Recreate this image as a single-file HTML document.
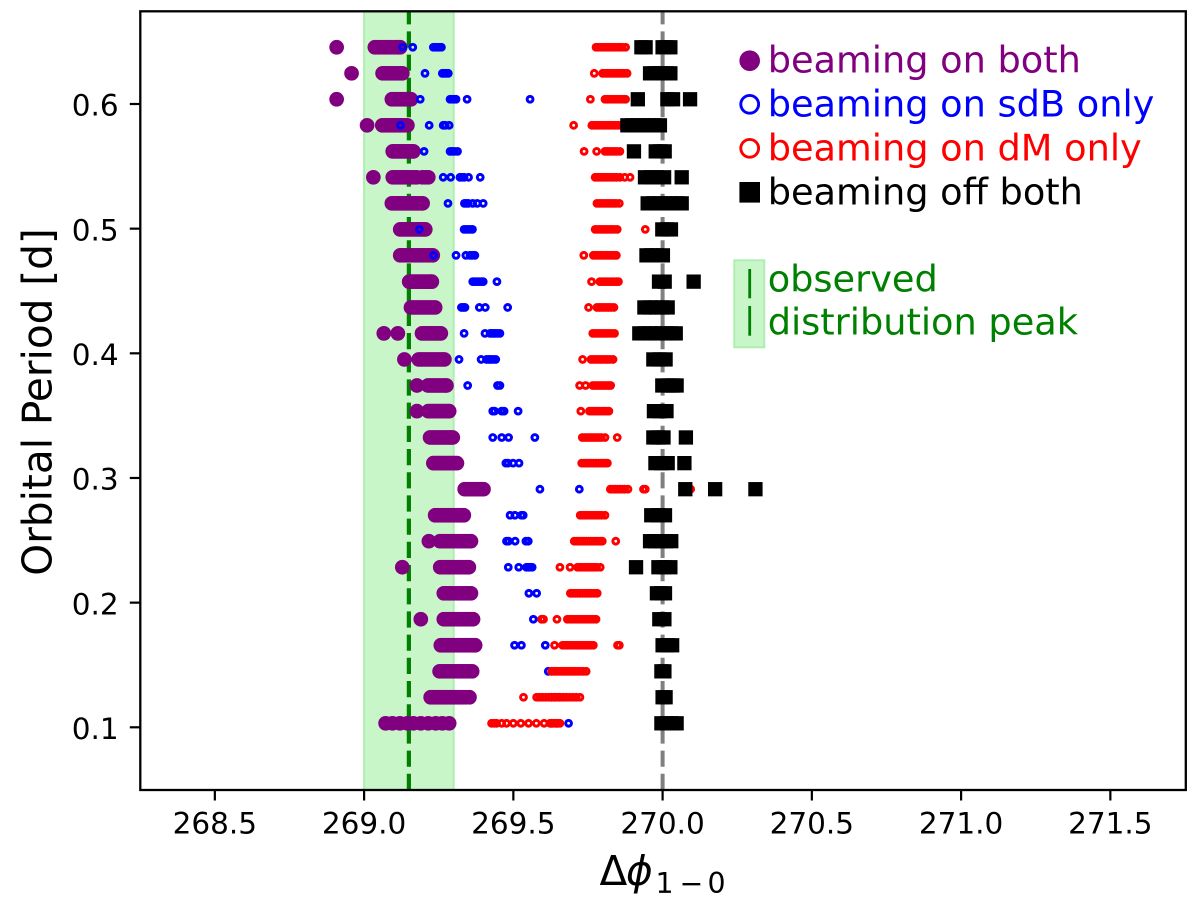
<!DOCTYPE html>
<html lang="en">
<head>
<meta charset="utf-8">
<title>Orbital Period vs Phase Difference</title>
<style>
html,body{margin:0;padding:0;background:#fff;width:1200px;height:898px;overflow:hidden}
svg{display:block;font-family:"DejaVu Sans","Liberation Sans",sans-serif}
</style>
</head>
<body>
<svg id="chart" xmlns="http://www.w3.org/2000/svg" width="1200" height="898" viewBox="0 0 1200 898">
  <rect x="0" y="0" width="1200" height="898" fill="#ffffff"/>
  <g id="under"></g>
  <g id="marks"></g>
  <g id="axes"></g>

  <text transform="translate(51.7,402) rotate(-90)" text-anchor="middle" font-size="40.6" fill="#000">Orbital Period [d]</text>
  <text font-size="40.6" fill="#000" y="885"><tspan x="599.5">Δ</tspan><tspan x="626" font-style="italic">ϕ</tspan><tspan x="655.5" y="893" font-size="28.4">1</tspan><tspan x="679.5" y="893" font-size="28.4">−</tspan><tspan x="707.5" y="893" font-size="28.4">0</tspan></text>

  <g font-size="36.7">
    <circle cx="749.7" cy="60.7" r="10.3" fill="#800080"/>
    <text x="767.7" y="72.7" fill="#800080">beaming on both</text>
    <circle cx="749.7" cy="104.3" r="8.9" fill="none" stroke="#0000ff" stroke-width="2.9"/>
    <text x="767.7" y="116.7" fill="#0000ff">beaming on sdB only</text>
    <circle cx="749.7" cy="148.3" r="8.9" fill="none" stroke="#ff0000" stroke-width="2.9"/>
    <text x="767.7" y="160.7" fill="#ff0000">beaming on dM only</text>
    <rect x="739.4" y="182" width="20.6" height="20.6" fill="#000"/>
    <text x="767.7" y="204.4" fill="#000">beaming off both</text>
    <rect x="734.3" y="260.3" width="30" height="87" fill="#c8f6c8" stroke="#aeeeb0" stroke-width="2"/>
    <line x1="749.7" x2="749.7" y1="269" y2="298.3" stroke="#008000" stroke-width="2.8"/>
    <line x1="749.7" x2="749.7" y1="306" y2="335.7" stroke="#008000" stroke-width="2.8"/>
    <text x="767.7" y="291.7" fill="#008000">observed</text>
    <text x="767.7" y="334.3" fill="#008000">distribution peak</text>
  </g>
</svg>

<script>
const xTickValues = [268.5, 269.0, 269.5, 270.0, 270.5, 271.0, 271.5];
const xTickLabels = ["268.5", "269.0", "269.5", "270.0", "270.5", "271.0", "271.5"];
const yTickValues = [0.1, 0.2, 0.3, 0.4, 0.5, 0.6];
const yTickLabels = ["0.1", "0.2", "0.3", "0.4", "0.5", "0.6"];
const observedSpan = [269.0, 269.3];
const observedPeak = 269.15;
const expectedPeak = 270.0;

const periods = [0.6455,0.6246,0.6038,0.5829,0.562,0.5412,0.5203,0.4994,0.4786,0.4575,0.4368,0.416,0.3951,0.3742,0.3536,0.3325,0.3119,0.291,0.2701,0.2493,0.2284,0.2075,0.1867,0.1658,0.1449,0.1241,0.1032];

const beamingBoth = [
[268.908,269.036,269.045,269.054,269.063,269.072,269.081,269.09,269.099,269.108,269.115,269.121],
[268.958,269.062,269.07,269.078,269.086,269.094,269.102,269.11,269.12,269.128],
[268.908,269.093,269.101,269.109,269.117,269.125,269.133,269.141,269.149,269.157],
[269.01,269.061,269.069,269.077,269.085,269.093,269.101,269.109,269.117,269.125,269.135,269.145],
[269.096,269.104,269.112,269.12,269.128,269.136,269.144,269.152,269.16,269.165],
[269.031,269.096,269.104,269.112,269.12,269.128,269.136,269.144,269.152,269.16,269.17,269.176,269.195,269.205,269.215],
[269.093,269.101,269.109,269.117,269.125,269.133,269.141,269.149,269.157,269.165,269.173,269.181,269.19,269.196],
[269.121,269.129,269.137,269.145,269.153,269.161,269.169,269.177,269.185,269.193,269.2,269.205],
[269.121,269.13,269.14,269.15,269.16,269.17,269.18,269.19,269.2,269.21,269.22,269.23],
[269.151,269.159,269.167,269.175,269.183,269.191,269.199,269.207,269.215,269.222,269.227],
[269.157,269.165,269.173,269.181,269.189,269.197,269.205,269.213,269.221,269.23,269.238],
[269.066,269.113,269.194,269.202,269.21,269.218,269.226,269.234,269.242,269.25,269.257],
[269.135,269.183,269.191,269.199,269.207,269.215,269.223,269.231,269.239,269.247,269.255,269.263,269.269],
[269.177,269.214,269.222,269.23,269.238,269.246,269.254,269.262,269.27,269.276],
[269.177,269.215,269.223,269.231,269.239,269.247,269.255,269.263,269.271,269.279,269.285],
[269.221,269.229,269.237,269.245,269.253,269.261,269.269,269.277,269.285,269.291,269.297],
[269.232,269.24,269.248,269.256,269.264,269.272,269.28,269.288,269.296,269.304,269.311],
[269.337,269.345,269.353,269.361,269.369,269.377,269.385,269.393,269.4],
[269.238,269.247,269.256,269.265,269.274,269.283,269.292,269.301,269.31,269.319,269.327,269.334],
[269.217,269.254,269.263,269.272,269.281,269.29,269.299,269.308,269.317,269.326,269.335,269.344,269.352,269.358],
[269.128,269.255,269.264,269.273,269.282,269.291,269.3,269.309,269.318,269.327,269.336,269.344,269.351],
[269.267,269.276,269.285,269.294,269.303,269.312,269.321,269.33,269.339,269.348,269.358],
[269.19,269.267,269.276,269.285,269.294,269.303,269.312,269.321,269.33,269.339,269.348,269.356,269.365],
[269.257,269.266,269.275,269.284,269.293,269.302,269.311,269.32,269.329,269.338,269.347,269.356,269.365,269.372],
[269.253,269.262,269.271,269.28,269.289,269.298,269.307,269.316,269.325,269.334,269.343,269.352,269.362],
[269.223,269.232,269.241,269.25,269.259,269.268,269.277,269.286,269.295,269.304,269.313,269.322,269.331,269.34,269.353],
[269.072,269.095,269.12,269.145,269.165,269.19,269.215,269.24,269.262,269.285]
];

const beamingSdb = [
[269.129,269.163,269.232,269.239,269.245,269.252,269.259],
[269.204,269.262,269.268,269.275,269.282],
[269.188,269.288,269.295,269.302,269.308,269.345,269.556],
[269.122,269.218,269.265,269.272,269.285],
[269.201,269.288,269.295,269.303,269.313],
[269.265,269.29,269.321,269.328,269.335,269.35,269.389],
[269.281,269.336,269.343,269.349,269.364,269.379,269.399],
[269.185,269.335,269.342,269.349,269.356,269.363],
[269.233,269.308,269.341,269.355,269.362,269.371],
[269.364,269.371,269.377,269.384,269.392,269.399,269.445],
[269.326,269.332,269.338,269.386,269.406,269.481],
[269.335,269.405,269.422,269.428,269.434,269.44,269.447,269.455],
[269.318,269.392,269.41,269.418,269.424,269.432,269.441],
[269.347,269.447,269.455],
[269.431,269.437,269.461,269.469,269.516],
[269.431,269.461,269.484,269.572],
[269.475,269.482,269.499,269.519],
[269.589,269.721],
[269.489,269.505,269.527,269.533],
[269.477,269.484,269.506,269.542,269.55],
[269.483,269.518,269.544,269.55,269.556,269.563],
[269.552,269.578],
[269.567,269.595],
[269.504,269.527,269.607],
[269.617],
[269.628,269.64,269.655],
[269.628,269.645,269.685]
];

const beamingDm = [
[269.777,269.785,269.793,269.801,269.809,269.817,269.825,269.833,269.841,269.849,269.857,269.865,269.876],
[269.771,269.799,269.807,269.815,269.823,269.831,269.839,269.847,269.855,269.863,269.871,269.881],
[269.758,269.807,269.815,269.823,269.831,269.839,269.847,269.855,269.863,269.871,269.876],
[269.702,269.763,269.771,269.779,269.787,269.795,269.803,269.811,269.819,269.827,269.835,269.843,269.851,269.86],
[269.737,269.779,269.807,269.815,269.823,269.831,269.839,269.847,269.857],
[269.774,269.782,269.79,269.798,269.806,269.814,269.822,269.83,269.838,269.846,269.857,269.873,269.891],
[269.78,269.788,269.796,269.804,269.812,269.82,269.828,269.836,269.844,269.855],
[269.774,269.782,269.79,269.798,269.806,269.814,269.822,269.83,269.838,269.848,269.942],
[269.736,269.768,269.776,269.784,269.792,269.8,269.808,269.816,269.824,269.832,269.84,269.845],
[269.762,269.79,269.798,269.806,269.814,269.822,269.83,269.838,269.846,269.852],
[269.752,269.78,269.788,269.796,269.804,269.812,269.82,269.828,269.837],
[269.766,269.774,269.782,269.79,269.798,269.806,269.814,269.822,269.83,269.839],
[269.732,269.76,269.768,269.776,269.784,269.792,269.8,269.808,269.816,269.824,269.834],
[269.722,269.742,269.766,269.774,269.782,269.79,269.798,269.806,269.814,269.82,269.826],
[269.726,269.755,269.763,269.771,269.779,269.787,269.795,269.803,269.811,269.82],
[269.731,269.739,269.747,269.755,269.763,269.771,269.779,269.787,269.795,269.807,269.848],
[269.729,269.737,269.745,269.753,269.761,269.769,269.777,269.785,269.793,269.801,269.808,269.815],
[269.825,269.833,269.841,269.849,269.857,269.865,269.873,269.884,269.942,269.936,270.094],
[269.724,269.732,269.74,269.748,269.756,269.764,269.772,269.78,269.788,269.796,269.807],
[269.704,269.712,269.72,269.728,269.736,269.744,269.752,269.76,269.768,269.776,269.784,269.792,269.798,269.843],
[269.656,269.69,269.715,269.723,269.731,269.739,269.747,269.755,269.763,269.771,269.779,269.791],
[269.691,269.699,269.707,269.715,269.723,269.731,269.739,269.747,269.755,269.763,269.772,269.781],
[269.595,269.601,269.646,269.681,269.689,269.697,269.705,269.713,269.721,269.729,269.737,269.745,269.753,269.761,269.769,269.777],
[269.638,269.665,269.673,269.681,269.689,269.697,269.705,269.713,269.721,269.729,269.737,269.745,269.753,269.761,269.768,269.849,269.855],
[269.628,269.636,269.644,269.652,269.66,269.668,269.676,269.684,269.692,269.7,269.708,269.716,269.724,269.734,269.744],
[269.534,269.578,269.588,269.598,269.608,269.618,269.628,269.638,269.648,269.658,269.668,269.678,269.689,269.7,269.711,269.723],
[269.427,269.436,269.444,269.461,269.477,269.5,269.525,269.551,269.577,269.603,269.623,269.632,269.639,269.648,269.656]
];

const beamingOff = [
[269.929,269.943,270.0,270.012,270.026],
[269.958,269.972,269.986,270.0,270.014,270.026],
[269.917,270.016,270.035,270.092],
[269.882,269.9,269.918,269.936,269.954,269.972,269.991],
[269.904,269.977,269.992,270.007],
[269.941,269.96,269.98,270.005,270.064],
[269.95,269.97,269.99,270.01,270.03,270.05,270.064],
[269.999,270.014,270.028],
[269.946,269.962,269.98,270.001],
[269.988,270.007,270.104],
[269.939,269.958,269.977,269.998,270.017],
[269.922,269.94,269.958,269.976,269.994,270.012,270.03,270.044],
[269.969,269.99,270.01],
[269.999,270.02,270.035,270.047],
[269.971,269.99,270.013],
[269.969,269.986,270.003,270.078],
[269.976,269.996,270.017,270.073],
[270.076,270.176,270.311],
[269.962,269.985,270.008],
[269.958,269.975,269.995,270.012,270.029],
[269.911,269.986,270.005,270.026],
[269.981,269.995,270.008],
[269.989,270.006],
[270.0,270.016,270.032],
[269.996,270.006],
[270.0,270.01],
[269.996,270.012,270.03,270.047]
];

const SVG_NS = "http://www.w3.org/2000/svg";
function xScale(v){ return 662.6 + (v - 270) * 298.5; }
function yScale(v){ return 727.3 - (v - 0.1) * 1246.6; }
const plotLeft = 140.3, plotRight = 1185.8, plotTop = 11.3, plotBottom = 790;

function make(tag, parent, attrs){
  const el = document.createElementNS(SVG_NS, tag);
  for (const k in attrs) el.setAttribute(k, attrs[k]);
  parent.appendChild(el);
  return el;
}

const under = document.getElementById("under");
const marks = document.getElementById("marks");
const axes = document.getElementById("axes");

const band = make("rect", under, {x: xScale(observedSpan[0]), y: plotTop, width: xScale(observedSpan[1]) - xScale(observedSpan[0]), height: plotBottom - plotTop, fill: "#c8f6c8", stroke: "#aeeeb0", "stroke-width": 2});



const greyLine = make("line", under, {x1: xScale(expectedPeak), x2: xScale(expectedPeak), y1: plotBottom, y2: plotTop, stroke: "#808080", "stroke-width": 4, "stroke-dasharray": "16.2 7"});



const greenLine = make("line", under, {x1: xScale(observedPeak), x2: xScale(observedPeak), y1: plotBottom, y2: plotTop, stroke: "#007f00", "stroke-width": 4.2, "stroke-dasharray": "16.2 7"});



beamingBoth.forEach(function(row, i){
  row.forEach(function(v){
    const m = make("circle", marks, {cx: xScale(v), cy: yScale(periods[i]), r: 7.35, fill: "#800080"});
    
    
  });
});
beamingSdb.forEach(function(row, i){
  row.forEach(function(v){
    const m = make("circle", marks, {cx: xScale(v), cy: yScale(periods[i]), r: 2.9, fill: "none", stroke: "#0000ff", "stroke-width": 3});
    
    
  });
});
beamingDm.forEach(function(row, i){
  row.forEach(function(v){
    const m = make("circle", marks, {cx: xScale(v), cy: yScale(periods[i]), r: 2.9, fill: "none", stroke: "#ff0000", "stroke-width": 3});
    
    
  });
});
beamingOff.forEach(function(row, i){
  row.forEach(function(v){
    const m = make("rect", marks, {x: xScale(v) - 7.15, y: yScale(periods[i]) - 7.15, width: 14.3, height: 14.3, fill: "#000000"});
    
    
  });
});

xTickValues.forEach(function(v, i){
  const t = make("line", axes, {x1: xScale(v), x2: xScale(v), y1: plotBottom, y2: plotBottom + 10.5, stroke: "#000", "stroke-width": 2.2});
  
  
  const l = make("text", axes, {x: xScale(v), y: 833.3, "text-anchor": "middle", "font-size": 29.5, fill: "#000"});
  
  
  l.textContent = xTickLabels[i];
});
yTickValues.forEach(function(v, i){
  const t = make("line", axes, {x1: plotLeft - 10.5, x2: plotLeft, y1: yScale(v), y2: yScale(v), stroke: "#000", "stroke-width": 2.2});
  
  
  const l = make("text", axes, {x: 118.7, y: yScale(v) + 11.7, "text-anchor": "end", "font-size": 29.5, fill: "#000"});
  
  
  l.textContent = yTickLabels[i];
});

const frame = make("rect", axes, {x: plotLeft, y: plotTop, width: plotRight - plotLeft, height: plotBottom - plotTop, fill: "none", stroke: "#000", "stroke-width": 2.3});


</script>
</body>
</html>
